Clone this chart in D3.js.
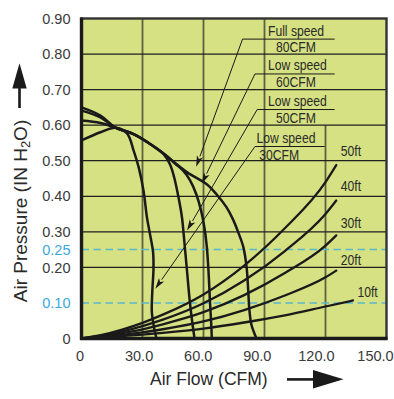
<!DOCTYPE html>
<html><head><meta charset="utf-8">
<script src="https://cdn.jsdelivr.net/npm/d3@7"></script>
<style>
html,body{margin:0;padding:0;background:#fff;}
svg{display:block;}
</style></head>
<body>
<svg id="chart" width="394" height="399"></svg>
<script>
// ---------- data ----------
const xTickValues = [0, 30, 60, 90, 120, 150];
const xTickLabels = ["0", "30.0", "60.0", "90.0", "120.0", "150.0"];
const yTickValues = [0.9, 0.8, 0.7, 0.6, 0.5, 0.4, 0.3, 0.25, 0.2, 0.1, 0];
const yTickLabels = ["0.90", "0.80", "0.70", "0.60", "0.50", "0.40", "0.30", "0.25", "0.20", "0.10", "0"];
const highlightLevels = [0.25, 0.10];
const xGridValues = [30, 60, 90, 120];
const xGridTops = [0.9, 0.9, 0.9, 0.6];
const yGridValues = [0.2, 0.3, 0.4, 0.5, 0.6, 0.7, 0.8];

// fan curves: [CFM, in H2O]
const fan80 = [[0,0.65],[9.3,0.627],[16.7,0.593],[25.6,0.575],[33,0.55],[41.2,0.516],[51.8,0.468],[61.6,0.434],[66.5,0.405],[71.2,0.37],[74.5,0.335],[77,0.3],[79.6,0.257],[81.2,0.2],[82,0.135],[82.5,0.085],[83.5,0.04],[85.2,0.012],[86.1,0]];
const fan60 = [[0,0.641],[9.3,0.622],[16.7,0.593],[25.6,0.575],[33,0.55],[41.2,0.517],[46,0.492],[50,0.472],[53.4,0.445],[56.5,0.405],[58.8,0.36],[60.5,0.31],[61.6,0.26],[62.4,0.196],[63.2,0.102],[63.8,0.04],[64.1,0]];
const fan50 = [[0,0.613],[9.3,0.606],[16.7,0.593],[25.6,0.575],[33,0.55],[40.5,0.518],[43.5,0.49],[45.5,0.455],[47.7,0.397],[49.4,0.341],[50.3,0.29],[51.8,0.196],[53.3,0.102],[54.6,0.04],[55.6,0]];
const fan30 = [[0,0.557],[9.3,0.58],[16.7,0.593],[22.4,0.577],[25.6,0.529],[28.1,0.482],[30.5,0.416],[32.2,0.34],[33.8,0.29],[35.2,0.243],[35.4,0.196],[34.8,0.13],[34.6,0.074],[35.8,0.027],[36.9,0]];

// system curves
const sys50 = [[0,0],[10,0.01],[20,0.025],[30,0.044],[40,0.067],[60,0.124],[80,0.205],[100,0.31],[120,0.44],[125.3,0.488]];
const sys40 = [[0,0],[10,0.008],[20,0.02],[30,0.035],[40,0.053],[60,0.099],[80,0.163],[100,0.246],[120,0.35],[125.3,0.388]];
const sys30 = [[0,0],[10,0.006],[20,0.015],[30,0.026],[40,0.04],[60,0.074],[80,0.122],[100,0.184],[120,0.261],[125.3,0.29]];
const sys20 = [[0,0],[10,0.004],[20,0.01],[30,0.017],[40,0.026],[60,0.048],[80,0.08],[100,0.121],[120,0.172],[125.3,0.191]];
const sys10 = [[0,0],[10,0.003],[20,0.007],[30,0.011],[40,0.016],[60,0.028],[80,0.045],[100,0.065],[120,0.09],[133.5,0.107]];
const sysLabels = ["50ft", "40ft", "30ft", "20ft", "10ft"];
const sysLabelPos = [[127.5,0.513],[127.5,0.414],[127.5,0.31],[127.5,0.207],[135.7,0.116]];

// annotations
const annoTop = ["Full speed", "Low speed", "Low speed", "Low speed"];
const annoBottom = ["80CFM", "60CFM", "50CFM", "30CFM"];
const annoLevel = [0.842, 0.744, 0.644, 0.540];
const annoLineStart = [79.2, 85.3, 86.4, 85.3];
const annoLineEnd = [124.5, 124.5, 124.5, 119.6];
const annoTextX = [91.7, 91.7, 91.7, 86.1];
const annoSubX = [95.6, 95.6, 95.6, 87.4];
const annoTip = [[56.4,0.483],[59.2,0.436],[51.9,0.304],[36.3,0.14]];

// ---------- drawing ----------
const svg = d3.select("#chart");
const x = d3.scaleLinear().domain([0,150]).range([81.5,386.5]);
const y = d3.scaleLinear().domain([0,0.9]).range([338.5,18.5]);
const xLabel = d3.scaleLinear().domain([0,150]).range([80,375.5]);

const SANS = "'Liberation Sans', Arial, Helvetica, sans-serif";
const NARROW_SCALE = 0.84;

function narrowText(g, px, py, str, size){
  return g.append("text")
    .attr("transform",`translate(${px},${py}) scale(${NARROW_SCALE},1)`)
    .attr("font-family",SANS).attr("font-size",size).attr("fill","#2a2a2a").text(str);
}

svg.append("rect").attr("x",x(0)).attr("y",y(0.9)).attr("width",x(150)-x(0)).attr("height",y(0)-y(0.9)).attr("fill","#d5e182");

// vertical grid
svg.append("g").selectAll("line").data(xGridValues).join("line")
  .attr("x1",d=>x(d)).attr("x2",d=>x(d))
  .attr("y1",y(0)).attr("y2",(d,i)=>y(xGridTops[i]))
  .attr("stroke","#5d6143").attr("stroke-width",1.8);
// horizontal grid
svg.append("g").selectAll("line").data(yGridValues).join("line")
  .attr("x1",x(0)).attr("x2",x(150))
  .attr("y1",d=>y(d)).attr("y2",d=>y(d))
  .attr("stroke","#1f1f1f").attr("stroke-width",1.3);
// dashed highlight levels
svg.append("g").selectAll("line").data(highlightLevels).join("line")
  .attr("x1",x(0)).attr("x2",x(150))
  .attr("y1",d=>y(d)).attr("y2",d=>y(d))
  .attr("stroke","#5cb8cc").attr("stroke-width",1.5).attr("stroke-dasharray","7.5,4.5");

const line = d3.line().x(d=>x(d[0])).y(d=>y(d[1])).curve(d3.curveCatmullRom.alpha(0.5));
const sysLine = d3.line().x(d=>x(d[0])).y(d=>y(d[1])).curve(d3.curveMonotoneX);

const gCurves = svg.append("g").attr("fill","none").attr("stroke","#1a1a1a").attr("stroke-linecap","round").attr("stroke-linejoin","round");
[fan30, fan50, fan60, fan80].forEach(s=>{
  gCurves.append("path").attr("d",line(s)).attr("stroke-width",2.5);
});
[sys50, sys40, sys30, sys20, sys10].forEach(s=>{
  gCurves.append("path").attr("d",sysLine(s)).attr("stroke-width",2.3);
});

// system labels
const gSys = svg.append("g");
sysLabels.forEach((t,i)=>narrowText(gSys, x(sysLabelPos[i][0]), y(sysLabelPos[i][1]), t, 14.5));

// annotation leaders
const gAnno = svg.append("g");
annoTop.forEach((t,i)=>{
  const yl = y(annoLevel[i]);
  gAnno.append("line").attr("x1",x(annoLineStart[i])).attr("x2",x(annoLineEnd[i]))
    .attr("y1",yl).attr("y2",yl).attr("stroke","#1a1a1a").attr("stroke-width",1);
  const x0 = x(annoLineStart[i]), y0 = yl;
  const x1 = x(annoTip[i][0]), y1 = y(annoTip[i][1]);
  const ang = Math.atan2(y1-y0, x1-x0);
  const L = 11, hw = 3.2;
  const bx = x1 - L*Math.cos(ang), by = y1 - L*Math.sin(ang);
  gAnno.append("line").attr("x1",x0).attr("y1",y0).attr("x2",bx).attr("y2",by)
    .attr("stroke","#1a1a1a").attr("stroke-width",1);
  const px = -Math.sin(ang)*hw, py = Math.cos(ang)*hw;
  gAnno.append("path").attr("d",`M${x1},${y1}L${bx+px},${by+py}L${bx+L*0.25*Math.cos(ang)},${by+L*0.25*Math.sin(ang)}L${bx-px},${by-py}Z`)
    .attr("fill","#1a1a1a");
  narrowText(gAnno, x(annoTextX[i]), yl-3.5, t, 14.5);
  narrowText(gAnno, x(annoSubX[i]), yl+13.3, annoBottom[i], 14.5);
});

// frame
svg.append("rect").attr("x",x(0)).attr("y",y(0.9)).attr("width",x(150)-x(0)).attr("height",y(0)-y(0.9))
  .attr("fill","none").attr("stroke","#333").attr("stroke-width",2.4);
svg.append("path").attr("d",`M${x(0)},${y(0.9)-1}L${x(0)},${y(0)}L${x(150)+1},${y(0)}`)
  .attr("fill","none").attr("stroke","#1a1a1a").attr("stroke-width",3.4);

// y tick labels
svg.append("g").selectAll("text").data(yTickValues).join("text")
  .attr("x",70.5).attr("y",d=>y(d)).attr("dy","0.36em").attr("text-anchor","end")
  .attr("font-family",SANS).attr("font-size",14.5)
  .attr("fill",d=>highlightLevels.includes(d)?"#3aa9de":"#3a3a3a")
  .text((d,i)=>yTickLabels[i]);
// x tick labels
svg.append("g").selectAll("text").data(xTickValues).join("text")
  .attr("x",d=>xLabel(d)).attr("y",361).attr("text-anchor","middle")
  .attr("font-family",SANS).attr("font-size",14.5).attr("fill","#3a3a3a")
  .text((d,i)=>xTickLabels[i]);

// axis titles
svg.append("text").attr("x",150).attr("y",385).attr("font-family",SANS).attr("font-size",17.5)
  .attr("fill","#2a2a2a").text("Air Flow (CFM)");
const yt = svg.append("text").attr("transform","translate(26.5,211) rotate(-90)").attr("text-anchor","middle")
  .attr("font-family",SANS).attr("font-size",19).attr("fill","#2a2a2a");
yt.append("tspan").text("Air Pressure (IN H");
yt.append("tspan").attr("font-size",13).attr("dy",3.5).text("2");
yt.append("tspan").attr("dy",-3.5).text("O)");

// arrows
svg.append("rect").attr("x",18.2).attr("y",86).attr("width",2.6).attr("height",22).attr("fill","#1a1a1a");
svg.append("path").attr("d","M12.3,88.5L26.7,88.5L19.5,63.3Z").attr("fill","#1a1a1a");
svg.append("rect").attr("x",287).attr("y",378.1).attr("width",28).attr("height",2.6).attr("fill","#1a1a1a");
svg.append("path").attr("d","M313,370L313,388.5L343.5,379.3Z").attr("fill","#1a1a1a");
</script>
</body></html>
